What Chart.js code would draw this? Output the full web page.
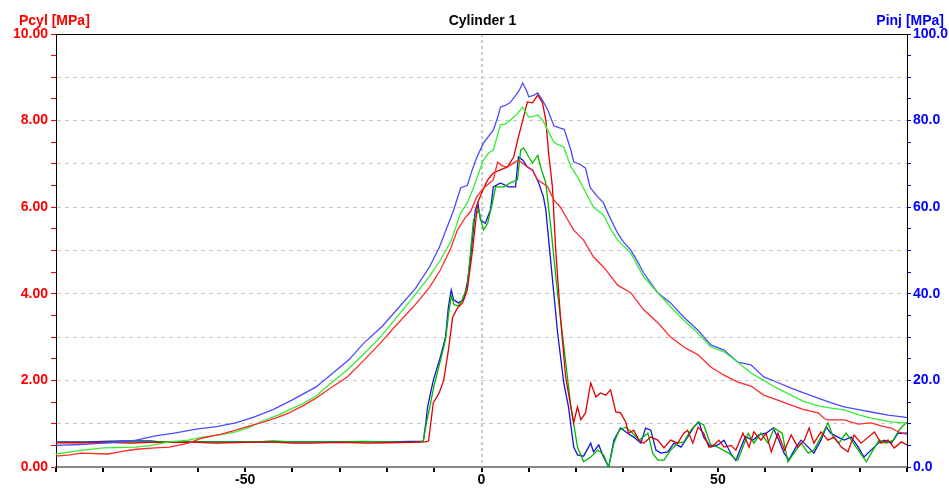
<!DOCTYPE html>
<html>
<head>
<meta charset="utf-8">
<script src="https://cdn.jsdelivr.net/npm/chart.js@4.4.1/dist/chart.umd.min.js"></script>
<style>
  html, body { margin: 0; padding: 0; background: #ffffff; }
  #wrap { width: 949px; height: 488px; }
</style>
</head>
<body>
<div id="wrap"><canvas id="c" width="949" height="488"></canvas></div>
<script>
// Crank angle [deg] / value pairs for each trace.
// Cylinder pressure (left axis, MPa)
const pcylBlue = [[-90,0.50],[-85,0.52],[-80,0.55],[-76,0.58],[-73,0.62],[-69,0.72],[-65,0.78],[-60,0.88],[-56,0.93],[-52,1.02],[-48,1.16],[-44,1.33],[-40,1.55],[-35,1.85],[-32,2.12],[-28,2.48],[-25,2.85],[-21,3.25],[-18,3.62],[-14,4.12],[-11,4.62],[-9,5.05],[-6,5.90],[-4.4,6.45],[-3,6.50],[-2,6.85],[-1,7.15],[0.4,7.48],[2.5,7.78],[3.5,8.10],[4,8.31],[5,8.35],[6,8.41],[7,8.55],[8,8.70],[8.7,8.87],[9.5,8.70],[10,8.55],[11,8.58],[11.9,8.64],[13,8.45],[14,8.25],[15.3,7.88],[16.5,7.83],[17.5,7.80],[18.9,7.32],[19.5,7.05],[21,6.98],[22,6.90],[23,6.45],[24.5,6.25],[25.8,6.10],[27,5.80],[28.8,5.40],[30,5.20],[31.6,5.01],[33,4.75],[34.3,4.48],[36,4.22],[37.3,4.02],[40,3.79],[42.8,3.46],[45.8,3.16],[48.5,2.82],[51.3,2.70],[54.2,2.42],[57,2.36],[59.7,2.08],[62,1.98],[65.5,1.82],[68,1.72],[71.2,1.59],[74,1.48],[76.7,1.39],[80,1.32],[82.4,1.27],[86,1.20],[89.4,1.15],[90,1.14]];

const pcylGreen = [[-90,0.30],[-85,0.38],[-80,0.44],[-73,0.46],[-70,0.50],[-66,0.58],[-62,0.62],[-59,0.69],[-55,0.75],[-52,0.81],[-49,0.92],[-46,1.08],[-43,1.20],[-40.7,1.32],[-38,1.45],[-35,1.64],[-32,1.92],[-28.4,2.24],[-25,2.60],[-21.4,3.00],[-18,3.45],[-14.4,3.93],[-11,4.40],[-8.7,4.78],[-6.5,5.20],[-4.4,5.87],[-3,6.10],[-1.7,6.45],[0.4,7.09],[1.5,7.25],[2.5,7.32],[4,7.90],[5,7.92],[6.1,8.01],[7.5,8.15],[8.7,8.31],[10,8.08],[11,8.10],[11.9,8.13],[13,8.00],[14,7.78],[15.3,7.50],[16.1,7.45],[17.4,7.39],[18.9,6.93],[20.3,6.70],[22,6.35],[23.7,6.00],[25.8,5.82],[27.3,5.50],[28.8,5.24],[31.6,4.94],[33,4.65],[34.3,4.39],[37.3,4.02],[40,3.70],[42.8,3.39],[45.8,3.09],[48.5,2.77],[51.3,2.66],[54.2,2.42],[57,2.17],[59.7,2.00],[62.5,1.82],[65.5,1.66],[68,1.52],[71.2,1.41],[74,1.36],[76.7,1.32],[80,1.20],[82.4,1.13],[86.7,1.04],[89.4,1.02],[90,1.02]];

const pcylRed = [[-90,0.25],[-87,0.28],[-84.7,0.32],[-79,0.30],[-76,0.36],[-73,0.41],[-69,0.44],[-66,0.46],[-62,0.55],[-59,0.67],[-55,0.76],[-52,0.85],[-49,0.95],[-46,1.04],[-43,1.15],[-40.7,1.25],[-38,1.40],[-35,1.59],[-32,1.82],[-28.4,2.08],[-25,2.45],[-21.4,2.86],[-18,3.28],[-14.4,3.70],[-11,4.15],[-8.7,4.55],[-6.5,5.05],[-5.1,5.47],[-3.5,5.75],[-2.3,5.90],[-1,6.24],[0.4,6.44],[2.5,6.63],[3.4,7.04],[4.5,6.95],[5.5,6.93],[6.5,7.00],[7.8,7.09],[9.7,6.93],[10.8,6.85],[11.9,6.63],[13,6.55],[14,6.47],[15.3,6.17],[16.7,6.00],[18,5.75],[19.5,5.47],[21.6,5.24],[23.7,4.85],[25.8,4.62],[28.8,4.20],[31.6,4.02],[34.3,3.63],[37.3,3.33],[40,3.00],[42.8,2.77],[45.8,2.59],[48.5,2.31],[51.3,2.12],[54.2,1.96],[57,1.87],[59.7,1.66],[62.5,1.55],[65.5,1.43],[68,1.33],[71.2,1.25],[72.5,1.12],[73.3,1.09],[76.7,1.09],[79.7,0.99],[82.4,1.02],[84.5,0.95],[86.7,0.90],[88,0.82],[89.4,0.77],[90,0.76]];

// Injection pressure (right axis, MPa)
const pinjBlue = [[-90,5.8],[-84,5.8],[-80,5.9],[-76,6.0],[-70,6.0],[-68,5.8],[-60,5.8],[-50,5.8],[-40,5.8],[-30,5.8],[-20,5.8],[-15,5.9],[-13,5.9],[-12.3,6.0],[-11.8,10.0],[-11.4,13.9],[-10.2,20.0],[-8.7,25.4],[-7.6,30.0],[-7,37.0],[-6.4,40.9],[-5.9,38.6],[-4.9,37.9],[-3.8,38.6],[-3,42.5],[-2.3,48.5],[-1.3,59.4],[-0.8,61.0],[-0.2,57.0],[0.8,56.3],[1.9,59.4],[2.5,64.7],[4,65.6],[5.7,64.7],[7.2,64.7],[7.8,71.6],[8.7,70.9],[9.7,69.3],[10.8,68.6],[12.1,65.6],[13.1,62.4],[13.6,59.4],[14.6,48.0],[16.1,31.0],[17.4,19.4],[18.4,13.9],[19.5,4.6],[20.3,2.8],[21.6,2.5],[23.1,5.5],[23.7,3.5],[24.8,5.1],[25.8,2.3],[26.9,0.0],[28,6.2],[29.4,9.0],[30.9,7.8],[32.2,6.9],[33.7,5.5],[34.7,9.0],[35.8,8.5],[36.9,3.9],[37.9,3.2],[39.4,3.5],[40.7,5.5],[42.2,4.6],[43.6,6.9],[44.9,9.2],[46,10.4],[47,6.9],[48.5,4.6],[50,5.1],[51.3,6.2],[52.8,3.0],[53.8,1.5],[54.9,4.6],[55.8,7.0],[57.4,6.2],[58.7,7.4],[60.2,7.8],[61.7,9.0],[62.9,6.2],[64,3.2],[65,1.6],[66.5,4.6],[67.6,6.2],[69.1,4.6],[70.3,3.2],[71.8,6.2],[72.9,9.2],[73.9,7.8],[75.4,6.9],[76.7,6.2],[78.2,6.9],[79.7,4.6],[80.9,2.3],[82.4,3.9],[83.9,5.5],[85.2,6.2],[86.7,5.5],[88.1,7.8],[89.4,7.8],[90,7.8]];

const pinjGreen = [[-90,5.7],[-80,5.7],[-70,5.8],[-60,5.8],[-50,5.8],[-46,5.9],[-44,6.0],[-40,5.8],[-30,5.8],[-25,5.9],[-20,5.8],[-15,5.7],[-13,5.8],[-12.3,6.0],[-11.6,10.5],[-11,13.5],[-10,19.0],[-8.7,24.5],[-7.6,29.5],[-7,35.0],[-6.4,39.5],[-5.8,37.5],[-4.9,37.2],[-4.4,37.9],[-3,41.6],[-1.7,57.0],[-0.6,59.4],[0.4,54.7],[1.3,56.3],[2.3,61.0],[3,64.7],[4.7,64.7],[6.1,65.6],[7.6,66.3],[8.3,73.2],[8.9,73.7],[10,71.6],[10.8,70.2],[11.9,72.0],[12.5,69.3],[13.6,65.6],[14.6,56.0],[16.1,40.0],[17.4,28.0],[18.9,14.0],[20.3,4.6],[21.6,1.2],[23.1,2.3],[24.6,3.9],[25.8,2.8],[26.9,0.0],[28,5.5],[29.1,8.5],[30.5,9.2],[32,7.8],[33.3,6.2],[35.2,7.8],[36.2,3.2],[37.3,1.6],[38.6,1.6],[40,3.9],[41.5,5.5],[42.8,5.8],[44.3,8.5],[45.8,10.4],[47,9.7],[48.5,5.1],[50,4.6],[51.1,3.9],[52.3,3.2],[53.5,2.0],[54.2,1.6],[55.3,4.6],[56.4,7.8],[57.6,5.5],[59.1,7.8],[60.6,5.5],[61.9,9.0],[63.6,7.8],[64.8,1.2],[66.1,3.2],[67.6,5.5],[69.1,3.2],[70.3,3.9],[71.8,6.9],[73.3,10.2],[74.4,6.9],[75.6,5.5],[77.1,7.8],[78.2,6.2],[79.7,3.9],[81.4,1.2],[82.8,3.9],[84.1,6.2],[85.6,5.5],[87.1,6.2],[88.3,8.5],[89.8,10.2],[90,10.3]];

const pinjRed = [[-90,5.6],[-85,5.6],[-80,5.7],[-74,5.5],[-70,5.7],[-60,5.7],[-56,5.5],[-50,5.7],[-45,5.8],[-40,5.5],[-36,5.5],[-30,5.7],[-24,5.5],[-20,5.6],[-15,5.7],[-12,5.8],[-11.2,6.0],[-10.2,14.8],[-9,17.0],[-8,20.0],[-7,27.0],[-6.1,34.6],[-5.1,36.7],[-4,37.9],[-3,40.9],[-1.9,50.0],[-0.8,61.0],[0.3,64.0],[1.3,66.3],[2.5,67.9],[4,68.6],[5.5,69.3],[6.8,71.6],[7.8,76.2],[8.9,80.8],[9.7,84.3],[10.8,84.1],[11.9,85.9],[12.9,84.1],[13.6,80.1],[14.2,72.5],[15,64.7],[15.7,50.1],[16.7,34.6],[17.8,20.8],[18.9,13.9],[19.5,10.2],[20.3,13.9],[21,10.9],[22,12.5],[23.1,19.4],[24.2,16.2],[25.2,17.1],[26.3,16.6],[27.3,17.8],[28.4,12.7],[29.4,12.5],[30.5,10.4],[31.1,7.8],[32.2,8.5],[33.3,6.2],[34.3,5.5],[35.8,6.9],[37.3,6.2],[38.6,4.4],[40,6.2],[41.5,5.5],[42.8,7.8],[43.6,8.5],[44.7,5.5],[45.8,9.2],[47,7.8],[48.1,4.6],[49.2,5.1],[50.2,6.2],[51.3,4.6],[52.8,5.0],[53.8,3.9],[55.3,7.8],[56.6,4.6],[57.6,8.1],[59.1,6.2],[60.2,7.8],[61.3,3.5],[62.7,7.8],[64.1,3.9],[65.5,7.4],[66.9,4.6],[68.3,6.2],[69.3,9.0],[70.3,5.5],[71.8,8.1],[73.3,6.2],[74.6,6.9],[76.1,4.6],[77.5,3.5],[78.8,7.4],[80.3,5.5],[81.8,6.9],[83.1,8.1],[84.5,5.5],[86,6.2],[87.3,4.4],[88.8,5.8],[90,5.1]];

// Axis ranges and labelled ticks
const angleRange = [-90, 90];
const angleLabels = [-50, 0, 50];
const pcylRange = [0, 10];
const pinjRange = [0, 100];

const FONT = '"Liberation Sans", Arial, sans-serif';
const FONT_SIZE = 14;

function toPoints(pairs) {
  return pairs.map(p => ({ x: p[0], y: p[1] }));
}

function trace(label, pairs, color, axis) {
  return {
    label: label,
    data: toPoints(pairs),
    yAxisID: axis,
    borderColor: color,
    borderWidth: 1.3,
    pointRadius: 0,
    tension: 0,
    fill: false
  };
}

// Header texts and the frame top line
const headerPlugin = {
  id: 'header',
  afterDraw(chart) {
    const ctx = chart.ctx;
    const area = chart.chartArea;
    ctx.save();
    ctx.strokeStyle = '#000000';
    ctx.lineWidth = 1;
    ctx.beginPath();
    ctx.moveTo(area.left, area.top + 0.5);
    ctx.lineTo(area.right, area.top + 0.5);
    ctx.stroke();

    ctx.font = 'bold ' + FONT_SIZE + 'px ' + FONT;
    ctx.textBaseline = 'alphabetic';
    ctx.fillStyle = '#ff0000';
    ctx.textAlign = 'left';
    ctx.fillText('Pcyl [MPa]', 19, 25);
    ctx.fillStyle = '#000000';
    ctx.textAlign = 'center';
    ctx.fillText('Cylinder 1', (area.left + area.right) / 2 + 1, 25);
    ctx.fillStyle = '#0000ff';
    ctx.textAlign = 'right';
    ctx.fillText('Pinj [MPa]', 944, 25);
    ctx.restore();
  }
};

new Chart(document.getElementById('c'), {
  type: 'line',
  data: {
    datasets: [
      trace('Pcyl 3', pcylRed, '#ff2a2a', 'y'),
      trace('Pcyl 2', pcylGreen, '#33ee33', 'y'),
      trace('Pcyl 1', pcylBlue, '#4a4aff', 'y'),
      trace('Pinj 3', pinjRed, '#e00000', 'y2'),
      trace('Pinj 2', pinjGreen, '#00b800', 'y2'),
      trace('Pinj 1', pinjBlue, '#1414d8', 'y2')
    ]
  },
  options: {
    responsive: false,
    animation: false,
    devicePixelRatio: 1,
    layout: { padding: { top: 34, left: 0, right: 0, bottom: 0 } },
    plugins: {
      legend: { display: false },
      tooltip: { enabled: false },
      title: { display: false }
    },
    scales: {
      x: {
        type: 'linear',
        min: angleRange[0],
        max: angleRange[1],
        afterFit(scale) { scale.height = 21; },
        afterBuildTicks(scale) {
          const t = [];
          for (let v = angleRange[0]; v <= angleRange[1]; v += 10) t.push({ value: v });
          scale.ticks = t;
        },
        ticks: {
          autoSkip: false,
          maxRotation: 0,
          padding: 0,
          color: '#000000',
          font: { family: FONT, size: FONT_SIZE, weight: 'bold' },
          callback: v => angleLabels.includes(v) ? String(v) : ''
        },
        grid: {
          drawTicks: true,
          tickLength: 5,
          tickColor: '#000000',
          color: ctx => (ctx.tick && ctx.tick.value === 0) ? '#c8c8c8' : 'rgba(0,0,0,0)',
          lineWidth: 2
        },
        border: { display: true, color: '#8a8a8a', width: 2, dash: [3, 3] }
      },
      y: {
        type: 'linear',
        position: 'left',
        min: pcylRange[0],
        max: pcylRange[1],
        afterFit(scale) { scale.width = 56; },
        ticks: {
          stepSize: 0.5,
          autoSkip: false,
          padding: 3,
          color: '#ff0000',
          font: { family: FONT, size: FONT_SIZE, weight: 'bold' },
          callback: v => (Math.abs(v % 2) < 1e-9) ? v.toFixed(2) : ''
        },
        grid: {
          drawTicks: true,
          tickLength: 5,
          tickColor: '#ff0000',
          color: ctx => {
            const v = ctx.tick ? ctx.tick.value : 0;
            return (Math.abs(v % 1) < 1e-9 && v > 0 && v < 10) ? '#c8c8c8' : 'rgba(0,0,0,0)';
          },
          lineWidth: 1
        },
        border: { display: true, color: '#000000', width: 1, dash: [4, 4] }
      },
      y2: {
        type: 'linear',
        position: 'right',
        min: pinjRange[0],
        max: pinjRange[1],
        afterFit(scale) { scale.width = 42; },
        ticks: {
          stepSize: 5,
          autoSkip: false,
          padding: 2,
          color: '#0000ff',
          font: { family: FONT, size: FONT_SIZE, weight: 'bold' },
          callback: v => (Math.abs(v % 20) < 1e-9) ? v.toFixed(1) : ''
        },
        grid: {
          drawOnChartArea: false,
          drawTicks: true,
          tickLength: 4,
          tickColor: '#0000ff'
        },
        border: { display: true, color: '#000000', width: 1 }
      }
    }
  },
  plugins: [headerPlugin]
});
</script>
</body>
</html>
